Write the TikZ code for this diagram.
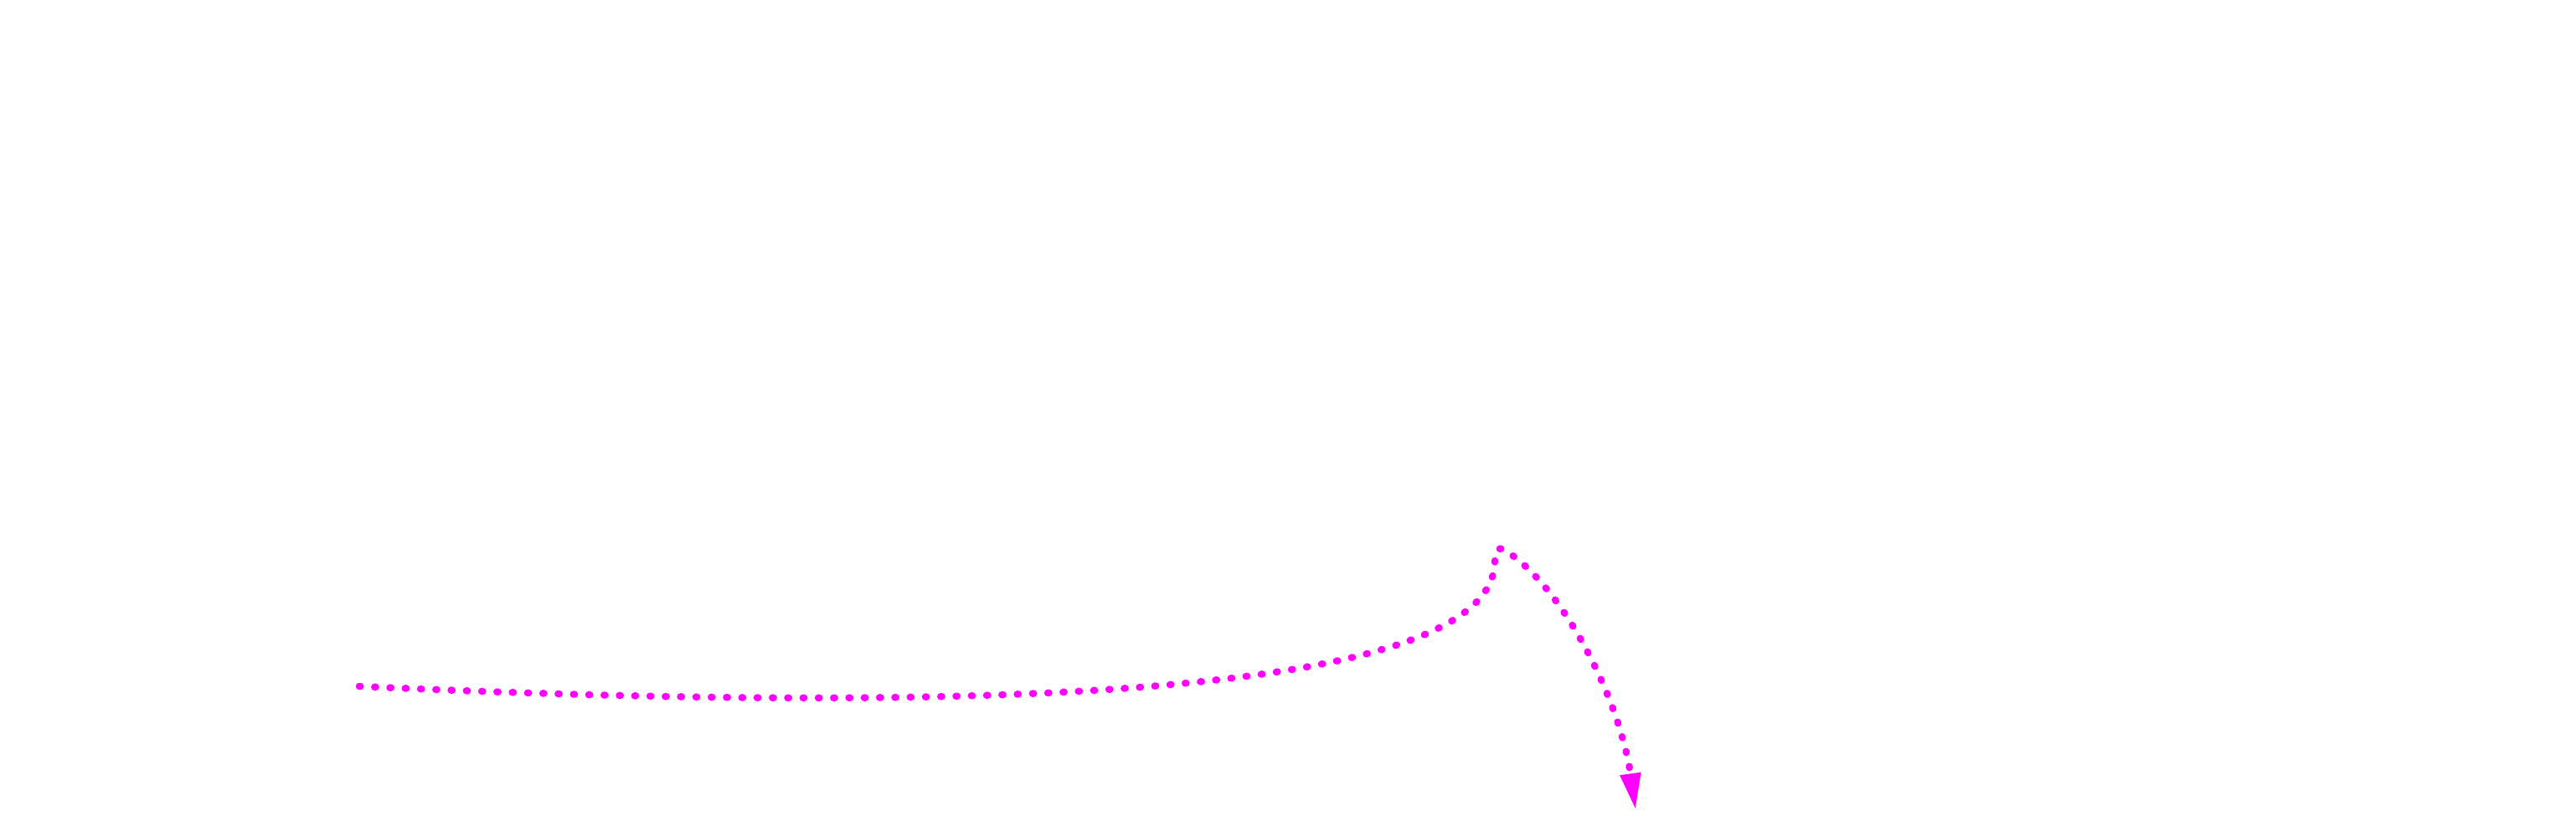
\documentclass[tikz,border=0pt]{standalone}
\usepackage{tikz}
\usetikzlibrary{arrows.meta}
\definecolor{linkpink}{RGB}{255,0,255}

\begin{document}
\begin{tikzpicture}[dotline/.style={linkpink,line width=2.4pt,line cap=round,dash pattern=on 0.4pt off 4.8pt,-{Triangle[length=0.44cm,width=0.23cm]}}]
				\useasboundingbox (0,0) rectangle (30.76,10);
				\coordinate (from) at (4.29,1.80);
				\coordinate (bend) at (17.85,3.30);
				\coordinate (top) at (17.98,3.42);
				\coordinate (to) at (19.53,0.32);
				\draw[dotline] (from) .. controls (12,1.45) and (17.85,1.70) .. (bend)
					.. controls (17.85,3.45) and (17.90,3.47) .. (top)
					.. controls (18.70,2.95) and (19.35,1.60) .. (to);
			\end{tikzpicture}
\end{document}
